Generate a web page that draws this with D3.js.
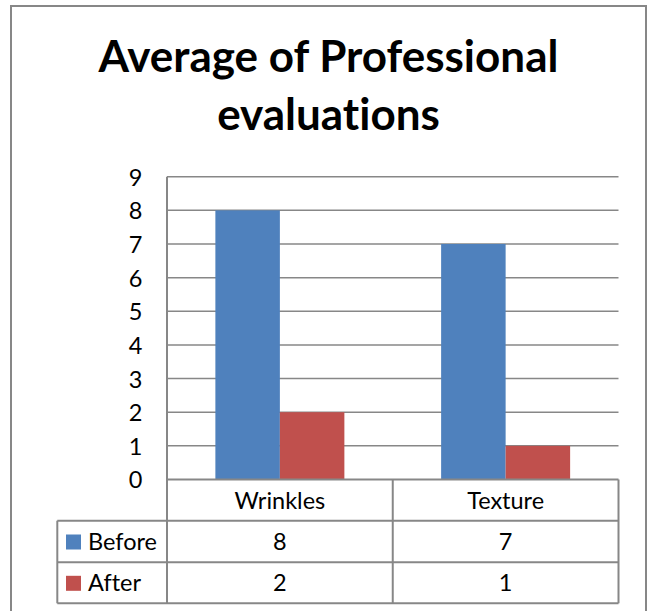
<!DOCTYPE html>
<html>
<head>
<meta charset="utf-8">
<script src="https://cdn.jsdelivr.net/npm/d3@7"></script>
<style>
  html, body { margin: 0; padding: 0; background: #fff; }
  svg { display: block; }
  text { font-family: Lato, "Open Sans", sans-serif; fill: #000; font-variant-ligatures: none; font-feature-settings: "liga" 0, "clig" 0; }
</style>
</head>
<body>
<svg id="chart" width="652" height="611"></svg>
<script>
const titleLines = ["Average of Professional", "evaluations"];
const categories = ["Wrinkles", "Texture"];
const seriesNames = ["Before", "After"];
const seriesColors = ["#4F81BD", "#C0504D"];
const beforeValues = [8, 7];
const afterValues = [2, 1];
const yTicks = [0, 1, 2, 3, 4, 5, 6, 7, 8, 9];

const series = [
  { name: seriesNames[0], color: seriesColors[0], values: beforeValues },
  { name: seriesNames[1], color: seriesColors[1], values: afterValues }
];

const svg = d3.select("#chart");
const gridColor = "#878787";
const fs = 23.5;

// outer chart border
svg.append("rect")
  .attr("x", 11).attr("y", 6).attr("width", 635).attr("height", 640)
  .attr("fill", "none").attr("stroke", gridColor).attr("stroke-width", 2);

// title
const titleBaselines = [71.7, 130];
const titleEls = titleLines.map((t, i) => svg.append("text")
  .attr("x", 328.5).attr("y", titleBaselines[i])
  .attr("text-anchor", "middle")
  .attr("font-weight", "bold")
  .attr("font-size", 40)
  .text(t));
const w0 = titleEls[0].node().getComputedTextLength();
const fsTitle = 40 * 460 / w0;
titleEls.forEach(el => el.attr("font-size", fsTitle));

const plotLeft = 167, plotRight = 618.5;
const yScale = d3.scaleLinear().domain([0, 9]).range([479.5, 176.7]);

const x0 = d3.scaleBand().domain(categories).range([plotLeft, plotRight]).padding(0);
const bw = x0.bandwidth() / 3.5;
const x1 = d3.scaleBand().domain(seriesNames)
  .range([0.75 * bw, x0.bandwidth() - 0.75 * bw]).padding(0);

// gridlines
svg.append("g").selectAll("line")
  .data(yTicks.filter(d => d > 0))
  .join("line")
  .attr("x1", plotLeft).attr("x2", plotRight)
  .attr("y1", d => yScale(d)).attr("y2", d => yScale(d))
  .attr("stroke", gridColor).attr("stroke-width", 1.5);

// bars
series.forEach(s => {
  svg.append("g").selectAll("rect")
    .data(categories.map((c, i) => ({ c, v: s.values[i] })))
    .join("rect")
    .attr("x", d => x0(d.c) + x1(s.name))
    .attr("width", x1.bandwidth())
    .attr("y", d => yScale(d.v))
    .attr("height", d => yScale(0) - yScale(d.v))
    .attr("fill", s.color);
});

// y axis labels
const yAxis = d3.axisLeft(yScale).tickValues(yTicks).tickSize(0).tickPadding(0);
const yg = svg.append("g").attr("transform", "translate(142.5,0)").call(yAxis);
yg.select(".domain").remove();
yg.selectAll("text")
  .attr("font-size", fs).attr("fill", "#000")
  .attr("font-family", "Lato, sans-serif")
  .attr("dy", "0.36em");

// table
const rowTops = [479.5, 520.7, 562.3, 603.3];
const tableLeft = 57.3;
const lines = svg.append("g").attr("stroke", gridColor).attr("stroke-width", 2).attr("fill", "none");
lines.append("line").attr("x1", plotLeft).attr("x2", plotLeft).attr("y1", yScale(9)).attr("y2", rowTops[3]);
lines.append("line").attr("x1", plotLeft).attr("x2", plotRight).attr("y1", rowTops[0]).attr("y2", rowTops[0]);
[1, 2, 3].forEach(i => {
  lines.append("line").attr("x1", tableLeft).attr("x2", plotRight).attr("y1", rowTops[i]).attr("y2", rowTops[i]);
});
lines.append("line").attr("x1", tableLeft).attr("x2", tableLeft).attr("y1", rowTops[1]).attr("y2", rowTops[3]);
categories.forEach(c => {
  const xr = x0(c) + x0.bandwidth();
  lines.append("line").attr("x1", xr).attr("x2", xr).attr("y1", rowTops[0]).attr("y2", rowTops[3]);
});

// header labels
svg.append("g").selectAll("text").data(categories).join("text")
  .attr("x", d => x0(d) + x0.bandwidth() / 2)
  .attr("y", (rowTops[0] + rowTops[1]) / 2)
  .attr("dy", "0.36em")
  .attr("text-anchor", "middle")
  .attr("font-size", fs)
  .text(d => d);

// series rows
series.forEach((s, i) => {
  const cy = (rowTops[i + 1] + rowTops[i + 2]) / 2;
  svg.append("rect").attr("x", 66).attr("y", cy - 7).attr("width", 15).attr("height", 15).attr("fill", s.color);
  svg.append("text").attr("x", 88).attr("y", cy).attr("dy", "0.36em").attr("font-size", fs).text(s.name);
  svg.append("g").selectAll("text").data(s.values).join("text")
    .attr("x", (d, j) => x0(categories[j]) + x0.bandwidth() / 2)
    .attr("y", cy).attr("dy", "0.36em")
    .attr("text-anchor", "middle").attr("font-size", fs)
    .text(d => d);
});
</script>
</body>
</html>
